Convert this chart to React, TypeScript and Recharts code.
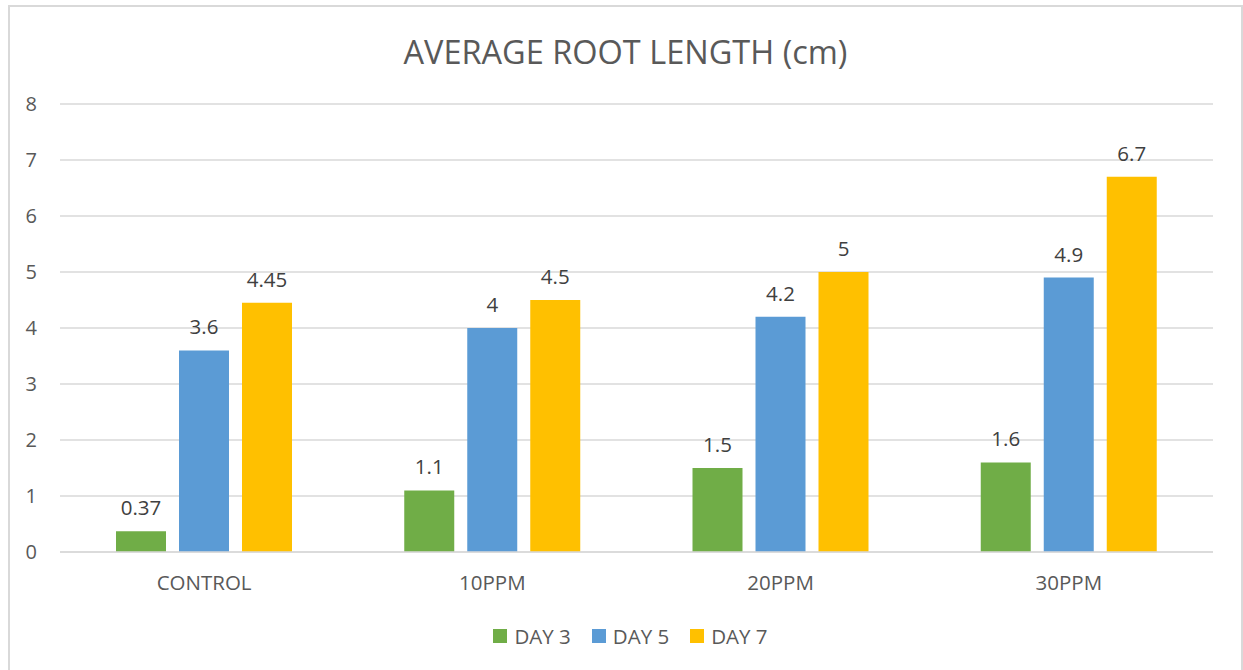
import React from "react";
import { BarChart, Bar, XAxis, YAxis, CartesianGrid, Legend, LabelList } from "recharts";

const categories = ["CONTROL", "10PPM", "20PPM", "30PPM"];
const day3 = [0.37, 1.1, 1.5, 1.6];
const day5 = [3.6, 4, 4.2, 4.9];
const day7 = [4.45, 4.5, 5, 6.7];
const yTicks = [0, 1, 2, 3, 4, 5, 6, 7, 8];
const seriesNames = ["DAY 3", "DAY 5", "DAY 7"];
const colors = ["#70AD47", "#5B9BD5", "#FFC000"];

const data = categories.map((c, i) => ({ name: c, d3: day3[i], d5: day5[i], d7: day7[i] }));

const FONT = "'Open Sans', sans-serif";

const renderLegend = () => (
  <div style={{ position: "relative", left: 19, display: "flex", justifyContent: "center", alignItems: "center", fontFamily: FONT, fontSize: 20.5, color: "#595959" }}>
    {seriesNames.map((n, i) => (
      <div key={n} style={{ display: "flex", alignItems: "center", marginRight: i < 2 ? 21 : 0 }}>
        <div style={{ width: 14, height: 14, background: colors[i], marginRight: 7 }} />
        <span>{n}</span>
      </div>
    ))}
  </div>
);

const labelStyle = { fontFamily: FONT, fontSize: 20.5, fill: "#404040" };

export default function App() {
  return (
    <div style={{ position: "absolute", left: 8, top: 5, width: 1231, height: 670, border: "2px solid #d9d9d9", background: "#fff" }}>
      <div style={{ position: "absolute", left: 0, top: 22, width: 1231, textAlign: "center", fontFamily: FONT, fontSize: 32.5, color: "#595959" }}>
        AVERAGE ROOT LENGTH (cm)
      </div>
      <BarChart
        width={1231}
        height={660}
        data={data}
        margin={{ top: 97, right: 28, bottom: 25, left: 0 }}
        barSize={50}
        barGap={13}
      >
        <CartesianGrid vertical={false} stroke="#d9d9d9" strokeWidth={1.5} />
        <XAxis
          dataKey="name"
          height={50}
          tickLine={false}
          axisLine={{ stroke: "#d9d9d9", strokeWidth: 1.5 }}
          tickMargin={17}
          tick={{ fontFamily: FONT, fontSize: 20.5, fill: "#595959" }}
        />
        <YAxis
          width={50}
          domain={[0, 8]}
          ticks={yTicks}
          interval={0}
          tickLine={false}
          axisLine={false}
          tickMargin={17}
          tick={{ fontFamily: FONT, fontSize: 20, fill: "#595959" }}
        />
        <Legend verticalAlign="bottom" height={40} content={renderLegend} wrapperStyle={{ top: 615, bottom: "auto" }} />
        <Bar dataKey="d3" name={seriesNames[0]} fill={colors[0]} isAnimationActive={false}>
          <LabelList dataKey="d3" position="top" offset={16} style={labelStyle} />
        </Bar>
        <Bar dataKey="d5" name={seriesNames[1]} fill={colors[1]} isAnimationActive={false}>
          <LabelList dataKey="d5" position="top" offset={16} style={labelStyle} />
        </Bar>
        <Bar dataKey="d7" name={seriesNames[2]} fill={colors[2]} isAnimationActive={false}>
          <LabelList dataKey="d7" position="top" offset={16} style={labelStyle} />
        </Bar>
      </BarChart>
    </div>
  );
}
